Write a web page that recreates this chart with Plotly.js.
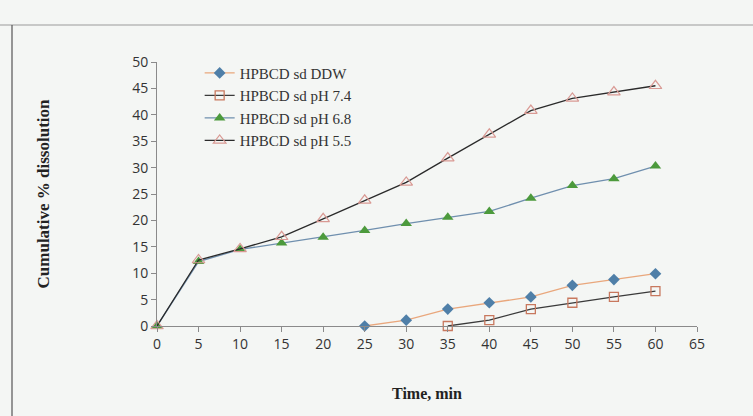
<!DOCTYPE html>
<html><head><meta charset="utf-8">
<script src="https://cdn.plot.ly/plotly-3.0.1.min.js"></script>
<style>html,body{margin:0;padding:0;background:#f4f6f4;}</style>
</head><body><div id="chart" style="width:753px;height:416px;"></div>
<script>
const seriesNames = ["HPBCD sd DDW", "HPBCD sd pH 7.4", "HPBCD sd pH 6.8", "HPBCD sd pH 5.5"];
const timeDDW = [25, 30, 35, 40, 45, 50, 55, 60];
const valDDW  = [0, 1.1, 3.2, 4.4, 5.5, 7.7, 8.8, 9.9];
const time74 = [35, 40, 45, 50, 55, 60];
const val74  = [0, 1.1, 3.2, 4.4, 5.5, 6.6];
const timeAll = [0, 5, 10, 15, 20, 25, 30, 35, 40, 45, 50, 55, 60];
const val68 = [0, 12.2, 14.5, 15.7, 16.8, 18.1, 19.4, 20.6, 21.7, 24.2, 26.6, 27.9, 30.3];
const val55 = [0, 12.5, 14.6, 16.9, 20.3, 23.8, 27.2, 31.8, 36.3, 40.8, 43.1, 44.3, 45.5];
const xTicks = [0,5,10,15,20,25,30,35,40,45,50,55,60,65];
const yTicks = [0,5,10,15,20,25,30,35,40,45,50];

const traces = [
  {x: timeDDW, y: valDDW, name: seriesNames[0], mode: 'lines+markers',
   line: {color: '#e9a77c', width: 1.3},
   marker: {symbol: 'diamond', size: 9, color: '#4f7fa8'}},
  {x: time74, y: val74, name: seriesNames[1], mode: 'lines+markers',
   line: {color: '#3a3a3a', width: 1.3},
   marker: {symbol: 'square-open', size: 9, color: '#c8785e', line: {width: 1.3}}},
  {x: timeAll, y: val68, name: seriesNames[2], mode: 'lines+markers',
   line: {color: '#6f8fae', width: 1.3},
   marker: {symbol: 'triangle-up', size: 10, color: '#4c9a3c'}},
  {x: timeAll, y: val55, name: seriesNames[3], mode: 'lines+markers',
   line: {color: '#2a2a2a', width: 1.3},
   marker: {symbol: 'triangle-up-open', size: 11, color: '#d99a94', line: {width: 1.2}}}
];
traces.forEach(t => t.cliponaxis = false);

const layout = {
  width: 753, height: 416,
  paper_bgcolor: '#f4f6f4', plot_bgcolor: 'rgba(0,0,0,0)',
  margin: {l: 157, r: 56, t: 62, b: 90},
  showlegend: true,
  legend: {x: 0.079, y: 1.02, xanchor: 'left', yanchor: 'top', bgcolor: 'rgba(0,0,0,0)',
           font: {family: 'Liberation Serif, serif', size: 15, color: '#333'}, tracegroupgap: 0},
  xaxis: {range: [0, 65], tickvals: xTicks, ticktext: xTicks.map(String), showgrid: false, zeroline: false,
          showline: true, linecolor: '#8a8a8a', linewidth: 1, ticks: 'outside', ticklen: 5, tickcolor: '#8a8a8a',
          tickfont: {family: 'Open Sans, DejaVu Sans, sans-serif', size: 14, color: '#333'},
          title: {text: '<b>Time, min</b>', standoff: 36, font: {family: 'Liberation Serif, serif', size: 16, color: '#222'}}},
  yaxis: {range: [0, 50], tickvals: yTicks, ticktext: yTicks.map(String), showgrid: false, zeroline: false,
          showline: true, linecolor: '#8a8a8a', linewidth: 1, ticks: 'outside', ticklen: 5, tickcolor: '#8a8a8a',
          tickfont: {family: 'Open Sans, DejaVu Sans, sans-serif', size: 14, color: '#333'},
          title: {text: '<b>Cumulative % dissolution</b>', standoff: 78, font: {family: 'Liberation Serif, serif', size: 17, color: '#222'}}},
  shapes: [
    {type: 'line', xref: 'paper', yref: 'paper', x0: -157/540, x1: 1.2, y0: 1 + 37/264, y1: 1 + 37/264, line: {color: '#9a9a9a', width: 1.2}},
    {type: 'line', xref: 'paper', yref: 'paper', x0: -145/540, x1: -145/540, y0: 1 + 37/264, y1: -0.4, line: {color: '#555', width: 1.2}}
  ]
};
Plotly.newPlot('chart', traces, layout, {displayModeBar: false, staticPlot: true});
</script></body></html>
